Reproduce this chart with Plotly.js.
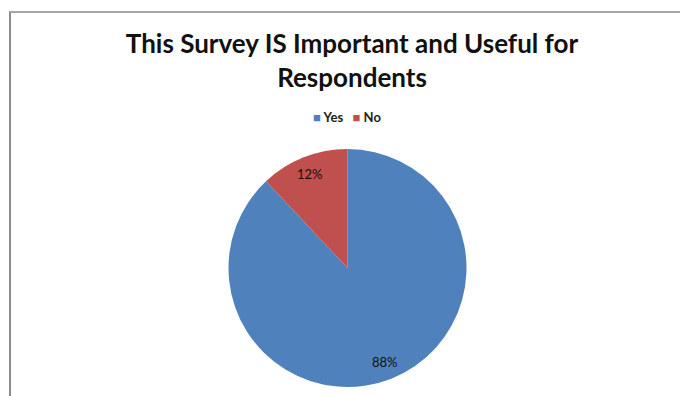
<!DOCTYPE html>
<html>
<head>
<meta charset="utf-8">
<script src="https://cdn.plot.ly/plotly-3.0.1.min.js"></script>
<style>
  html, body { margin:0; padding:0; background:#fff; }
  #wrap { position:relative; width:680px; height:396px; overflow:hidden; }
  #frame { position:absolute; left:9px; top:11px; width:700px; height:420px;
           border-left:2px solid #8c8c8c; border-top:2px solid #a6a6a6; box-sizing:border-box; pointer-events:none; z-index:2; }
  #chart { position:absolute; left:0; top:0; width:680px; height:396px; }
</style>
</head>
<body>
<div id="wrap">
  <div id="chart"></div>
  <div id="frame"></div>
</div>
<script>
const labels = ["Yes", "No"];
const values = [88, 12];
const colors = ["#4F81BD", "#C0504D"];
const titleText = "This Survey IS Important and Useful for<br>Respondents";

const W = 680, H = 396;
const cx = 347.5, cy = 268, R = 119;
const dom = {
  x: [(cx - R) / W, (cx + R) / W],
  y: [1 - (cy + R) / H, 1 - (cy - R) / H]
};
const FONT = "Lato, 'Open Sans', sans-serif";

// slice labels placed from the data (clockwise from 12 o'clock)
const total = values.reduce((a, b) => a + b, 0);
let acc = 0;
const annotations = values.map((v, i) => {
  const mid = (acc + v / 2) / total * 2 * Math.PI;
  acc += v;
  const px = cx + 0.85 * R * Math.sin(mid);
  const py = cy - 0.85 * R * Math.cos(mid);
  return {
    x: px / W, y: 1 - py / H, xref: "paper", yref: "paper",
    text: Math.round(v / total * 100) + "%", showarrow: false,
    font: { family: FONT, size: 13, color: "#111111" },
    xanchor: "center", yanchor: "middle"
  };
});

// compact legend (Excel style: small square right next to the label)
const legendText = labels.map((l, i) =>
  "<span style='color:" + colors[i] + "'>■</span>&nbsp;" + l).join("&nbsp;&nbsp;&nbsp;");
annotations.push({
  x: 347 / W, y: 1 - 117 / H, xref: "paper", yref: "paper",
  text: legendText, showarrow: false,
  font: { family: FONT, size: 13, color: "#222222", weight: "bold" },
  xanchor: "center", yanchor: "middle"
});

const data = [{
  type: "pie",
  labels: labels,
  values: values,
  sort: false,
  direction: "clockwise",
  rotation: 0,
  marker: { colors: colors, line: { width: 0 } },
  textinfo: "none",
  hoverinfo: "label+percent",
  domain: dom
}];

const layout = {
  width: W, height: H,
  margin: { l: 0, r: 0, t: 0, b: 0 },
  paper_bgcolor: "#ffffff",
  title: {
    text: titleText,
    font: { family: FONT, size: 26, color: "#111111", weight: "bold" },
    x: 352 / W, xanchor: "center", xref: "paper",
    y: 1 - 53 / H, yanchor: "top", yref: "container"
  },
  showlegend: false,
  annotations: annotations
};

Plotly.newPlot("chart", data, layout, { displayModeBar: false, staticPlot: true });
</script>
</body>
</html>
